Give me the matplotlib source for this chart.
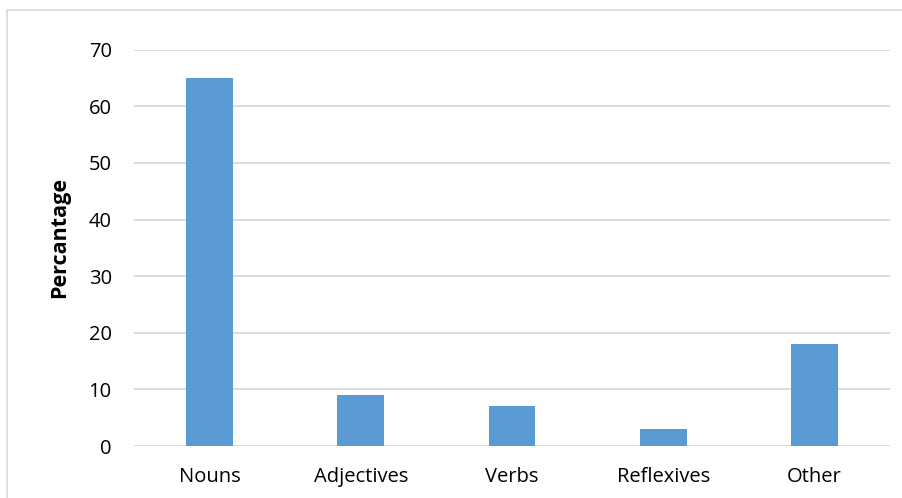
import matplotlib.pyplot as plt
from matplotlib.patches import Rectangle

categories = ['Nouns', 'Adjectives', 'Verbs', 'Reflexives', 'Other']
values = [65, 9, 7, 3, 18]
yticks = [0, 10, 20, 30, 40, 50, 60, 70]

plt.rcParams['font.family'] = ['Open Sans', 'DejaVu Sans']

fig = plt.figure(figsize=(9.03, 4.98), dpi=100)
ax = fig.add_axes([0.1484, 0.1044, 0.8372, 0.7958])

x = range(len(categories))
ax.bar(x, values, width=0.31, color='#5B9BD5', zorder=3)
ax.set_xlim(-0.5, len(categories) - 0.5)
ax.set_ylim(0, 70)
ax.set_yticks(yticks)
ax.set_xticks(list(x))
ax.set_xticklabels(categories, fontsize=14.5)
ax.tick_params(axis='y', labelsize=14.5, length=0, pad=16)
ax.tick_params(axis='x', length=0, pad=15)
ax.grid(axis='y', color='#D9D9D9', linewidth=1.3, zorder=0)
for s in ax.spines.values():
    s.set_visible(False)
ax.set_ylabel('Percantage', fontsize=15.5, fontweight='bold')
ax.yaxis.set_label_coords(-0.084, 0.526)

# chart border
fig.patches.append(Rectangle((7 / 903, -0.05), 1.2, 1 - 10 / 498 + 0.05,
                             transform=fig.transFigure, fill=False,
                             edgecolor='#D9D9D9', linewidth=1.2))

fig.savefig('out.png', dpi=100)
